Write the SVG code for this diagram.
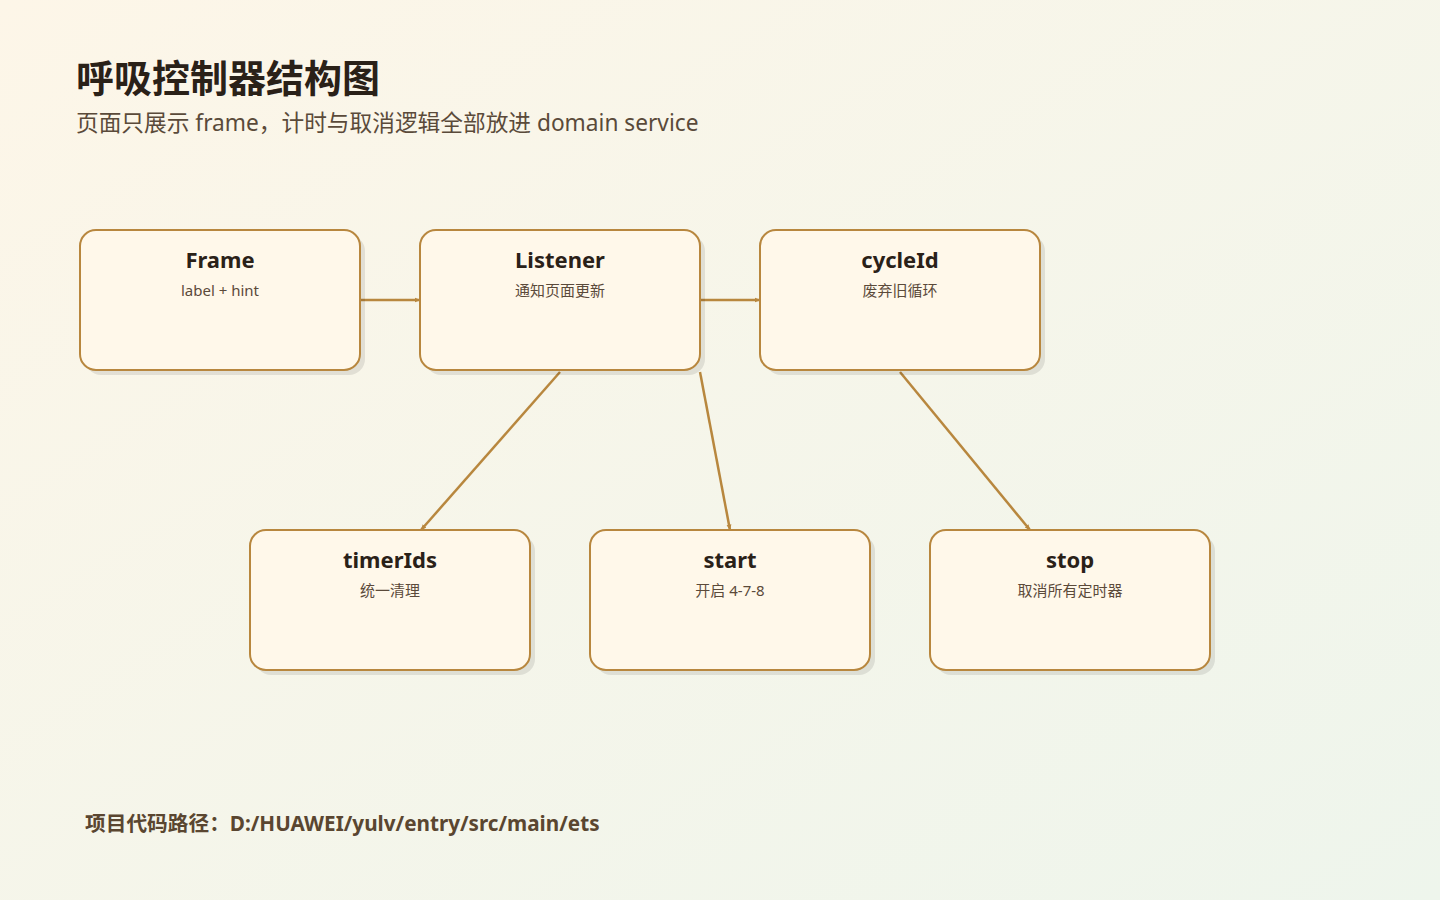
<svg xmlns="http://www.w3.org/2000/svg" width="1440" height="900" viewBox="0 0 1440 900">
<defs>
<linearGradient id="bg" x1="0" y1="0" x2="1" y2="1">
<stop offset="0" stop-color="#fdf6e8"/>
<stop offset="1" stop-color="#eef5ec"/>
</linearGradient>
<marker id="arr" viewBox="0 0 10 10" refX="9" refY="5" markerWidth="6" markerHeight="6" orient="auto" markerUnits="userSpaceOnUse">
<path d="M0,1 L10,5 L0,9 z" fill="#b8873e"/>
</marker>
<style>
.box{fill:#fff8ea;stroke:#b8873e;stroke-width:2}
.sh{fill:#000;opacity:0.09}
.t{font-family:"Noto Sans","Noto Sans CJK SC",sans-serif;font-weight:700;font-size:22px;fill:#2a2118;text-anchor:middle}
.s{font-family:"Noto Sans","Noto Sans CJK SC",sans-serif;font-size:15px;fill:#5b4a3a;text-anchor:middle}
.c{stroke:#b8873e;stroke-width:2.5;fill:none;marker-end:url(#arr)}
</style>
</defs>
<rect width="1440" height="900" fill="url(#bg)"/>
<text x="76" y="92" font-family="'Noto Sans CJK SC',sans-serif" font-weight="700" font-size="38" fill="#2a2118">呼吸控制器结构图</text>
<text x="76" y="131" font-family="'Noto Sans','Noto Sans CJK SC',sans-serif" font-size="22.7" fill="#5a4a3a">页面只展示 frame，计时与取消逻辑全部放进 domain service</text>
<g id="connectors">
<line class="c" x1="361" y1="300" x2="420" y2="300"/>
<line class="c" x1="701" y1="300" x2="760" y2="300"/>
<line class="c" x1="560" y1="372" x2="421" y2="530"/>
<line class="c" x1="700" y1="372" x2="730" y2="530"/>
<line class="c" x1="900" y1="372" x2="1030" y2="530"/>
</g>
<g id="frame">
<rect class="sh" x="85" y="235" width="280" height="140" rx="16"/>
<rect class="box" x="80" y="230" width="280" height="140" rx="16"/>
<text class="t" x="220" y="268">Frame</text>
<text class="s" x="220" y="296">label + hint</text>
</g>
<g id="listener">
<rect class="sh" x="425" y="235" width="280" height="140" rx="16"/>
<rect class="box" x="420" y="230" width="280" height="140" rx="16"/>
<text class="t" x="560" y="268">Listener</text>
<text class="s" x="560" y="296">通知页面更新</text>
</g>
<g id="cycleId">
<rect class="sh" x="765" y="235" width="280" height="140" rx="16"/>
<rect class="box" x="760" y="230" width="280" height="140" rx="16"/>
<text class="t" x="900" y="268">cycleId</text>
<text class="s" x="900" y="296">废弃旧循环</text>
</g>
<g id="timerIds">
<rect class="sh" x="255" y="535" width="280" height="140" rx="16"/>
<rect class="box" x="250" y="530" width="280" height="140" rx="16"/>
<text class="t" x="390" y="568">timerIds</text>
<text class="s" x="390" y="596">统一清理</text>
</g>
<g id="start">
<rect class="sh" x="595" y="535" width="280" height="140" rx="16"/>
<rect class="box" x="590" y="530" width="280" height="140" rx="16"/>
<text class="t" x="730" y="568">start</text>
<text class="s" x="730" y="596">开启 4-7-8</text>
</g>
<g id="stop">
<rect class="sh" x="935" y="535" width="280" height="140" rx="16"/>
<rect class="box" x="930" y="530" width="280" height="140" rx="16"/>
<text class="t" x="1070" y="568">stop</text>
<text class="s" x="1070" y="596">取消所有定时器</text>
</g>
<text x="85" y="831" font-family="'Noto Sans','Noto Sans CJK SC',sans-serif" font-weight="700" font-size="20.7" fill="#5a4630">项目代码路径：D:/HUAWEI/yulv/entry/src/main/ets</text>
</svg>
